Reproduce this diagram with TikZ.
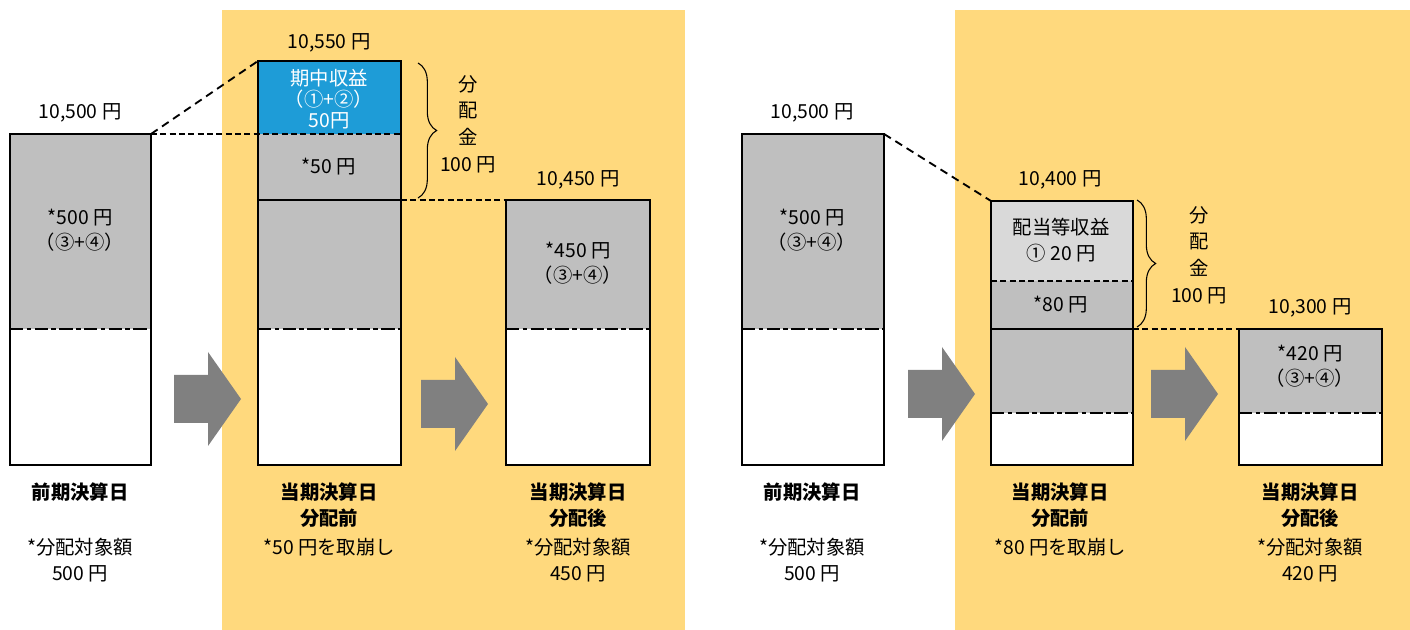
\documentclass[tikz,border=0pt]{standalone}
\usepackage{fontspec}
\setmainfont{Noto Sans CJK JP}
\usepackage{xcolor}
\usetikzlibrary{decorations.pathreplacing}
\definecolor{panelyellow}{RGB}{255,217,125}
\definecolor{bargray}{RGB}{191,191,191}
\definecolor{lightbar}{RGB}{217,217,217}
\definecolor{gainblue}{RGB}{30,156,215}
\definecolor{arrowgray}{RGB}{128,128,128}

\begin{document}
\begin{tikzpicture}[x=0.75pt, y=-0.75pt,
  every node/.style={font=\fontsize{14.5}{19}\selectfont, align=center, inner sep=0pt},
  title/.style={font=\fontsize{14.5}{19.5}\selectfont\bfseries},
  spaced/.style={font=\fontsize{14.5}{20}\selectfont},
  frame/.style={draw, line width=2.2pt},
  split/.style={line width=2.2pt},
  cutline/.style={line width=2pt, dash pattern=on 10pt off 2.5pt on 3.5pt off 2.5pt},
  guide/.style={line width=1.4pt, dash pattern=on 6pt off 4pt},
  fineguide/.style={line width=1.4pt, dash pattern=on 4.5pt off 2.5pt},
  bracket/.style={decorate, decoration={brace, amplitude=14pt}, line width=0.8pt},
  fatarrow/.pic={\fill[arrowgray] (0,-24) -- (34,-24) -- (34,-47) -- (67,0) -- (34,47) -- (34,24) -- (0,24) -- cycle;}]
  \useasboundingbox (0,0) rectangle (1410,630);

  % yellow panels
  \fill[panelyellow] (222,10) rectangle (685,630);
  \fill[panelyellow] (955,10) rectangle (1410,630);

  % left case
  \fill[white]    (10,134) rectangle (151,465);
  \fill[white]    (258,61) rectangle (401,465);
  \fill[white]    (506,200) rectangle (650,465);
  \fill[bargray]  (10,134) rectangle (151,329);
  \fill[gainblue] (258,61) rectangle (401,134);
  \fill[bargray]  (258,134) rectangle (401,329);
  \fill[bargray]  (506,200) rectangle (650,329);
  \coordinate (la-ne) at (151,134);
  \coordinate (lb-nw) at (258,61);
  \coordinate (lb-e)  at (401,134);
  \coordinate (lb-se) at (401,200);
  \coordinate (lc-nw) at (506,200);
  \draw[guide]     (la-ne) -- (lb-nw);
  \draw[fineguide] (la-ne) -- (lb-e);
  \draw[fineguide] (lb-se) -- (lc-nw);
  \draw[split]   (258,200) -- (lb-se);
  \draw[cutline] (10,329) -- (151,329);
  \draw[cutline] (258,329) -- (401,329);
  \draw[cutline] (506,329) -- (650,329);
  \draw[frame] (10,134) rectangle (151,465);
  \draw[frame] (258,61) rectangle (401,465);
  \draw[frame] (506,200) rectangle (650,465);
  \draw[bracket] (418,63) -- (418,198);
  \pic at (174,399) {fatarrow};
  \pic at (421,404) {fatarrow};

  \node (la-price) at (80,113)  {10,500 円};
  \node (la-body)  at (80,230)  {*500 円\\（③+④）};
  \node (lb-price) at (329,43)  {10,550 円};
  \node[text=white, font=\fontsize{14.5}{16}\selectfont] (lb-gain) at (329,99) {期中収益\\（①+②）\\50円};
  \node (lb-draw)  at (329,167) {*50 円};
  \node[spaced] (l-payout) at (468,124) {分\\配\\金\\100 円};
  \node (lc-price) at (578,180) {10,450 円};
  \node (lc-body)  at (578,263) {*450 円\\（③+④）};
  \node[title] (la-title) at (80,492)  {前期決算日};
  \node[title] (lb-title) at (329,505) {当期決算日\\分配前};
  \node[title] (lc-title) at (578,505) {当期決算日\\分配後};
  \node[spaced] (la-note) at (80,560)  {*分配対象額\\500 円};
  \node (lb-note) at (329,547) {*50 円を取崩し};
  \node[spaced] (lc-note) at (578,560) {*分配対象額\\450 円};

  % right case
  \fill[white]    (742,134) rectangle (884,465);
  \fill[white]    (991,201) rectangle (1133,465);
  \fill[white]    (1239,329) rectangle (1382,465);
  \fill[bargray]  (742,134) rectangle (884,329);
  \fill[lightbar] (991,201) rectangle (1133,281);
  \fill[bargray]  (991,281) rectangle (1133,413);
  \fill[bargray]  (1239,329) rectangle (1382,413);
  \coordinate (ra-ne) at (884,134);
  \coordinate (rb-nw) at (991,201);
  \coordinate (rb-se) at (1133,329);
  \coordinate (rc-nw) at (1239,329);
  \draw[guide]     (ra-ne) -- (rb-nw);
  \draw[fineguide] (991,281) -- (1133,281);
  \draw[fineguide] (rb-se) -- (rc-nw);
  \draw[split]   (991,329) -- (rb-se);
  \draw[cutline] (742,329) -- (884,329);
  \draw[cutline] (991,413) -- (1133,413);
  \draw[cutline] (1239,413) -- (1382,413);
  \draw[frame] (742,134) rectangle (884,465);
  \draw[frame] (991,201) rectangle (1133,465);
  \draw[frame] (1239,329) rectangle (1382,465);
  \draw[bracket] (1137,200) -- (1137,327);
  \pic at (908,394) {fatarrow};
  \pic at (1151,394) {fatarrow};

  \node (ra-price) at (812,113)  {10,500 円};
  \node (ra-body)  at (812,230)  {*500 円\\（③+④）};
  \node (rb-price) at (1060,180) {10,400 円};
  \node (rb-gain)  at (1061,240) {配当等収益\\① 20 円};
  \node (rb-draw)  at (1061,305) {*80 円};
  \node[spaced] (r-payout) at (1199,255) {分\\配\\金\\100 円};
  \node (rc-price) at (1310,308) {10,300 円};
  \node (rc-body)  at (1310,366) {*420 円\\（③+④）};
  \node[title] (ra-title) at (812,492)  {前期決算日};
  \node[title] (rb-title) at (1060,505) {当期決算日\\分配前};
  \node[title] (rc-title) at (1310,505) {当期決算日\\分配後};
  \node[spaced] (ra-note) at (812,560)  {*分配対象額\\500 円};
  \node (rb-note) at (1060,547) {*80 円を取崩し};
  \node[spaced] (rc-note) at (1310,560) {*分配対象額\\420 円};
\end{tikzpicture}
\end{document}
